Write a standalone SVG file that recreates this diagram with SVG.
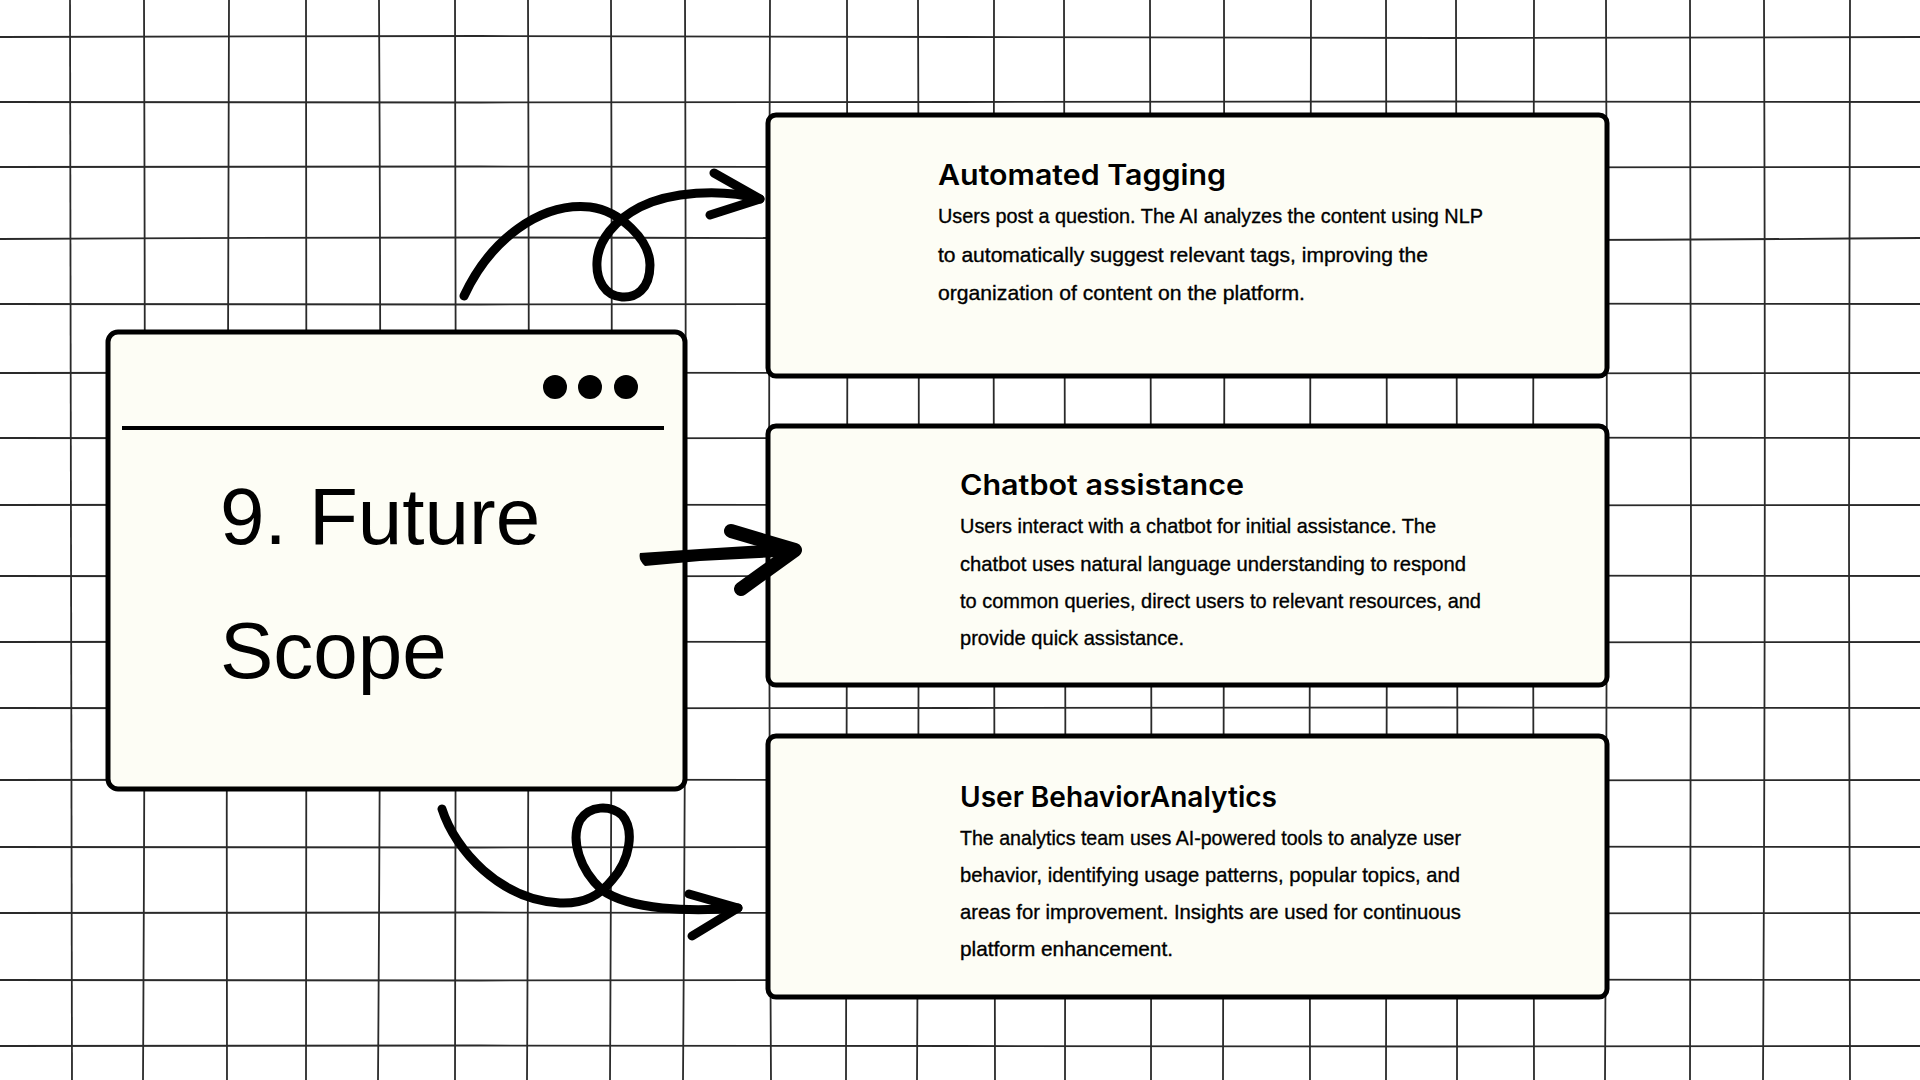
<svg xmlns="http://www.w3.org/2000/svg" width="1920" height="1080" viewBox="0 0 1920 1080">
<style>
.grid path{fill:none;stroke:#2a2a2a;stroke-width:1.8}
.box{fill:#FDFDF5;stroke:#000;stroke-width:5}
.ttl{font-family:Inter,"DejaVu Sans",sans-serif;font-weight:600;font-size:28px;fill:#000}
.body{font-family:"Liberation Sans",Arial,sans-serif;font-size:21px;fill:#000;stroke:#000;stroke-width:0.35}
.big{font-family:"Liberation Sans",Arial,sans-serif;font-size:80px;fill:#000}
.conn .ln{fill:none;stroke:#000;stroke-linecap:round;stroke-linejoin:round}
.conn .sh{fill:#000;stroke:none}
</style>
<rect width="1920" height="1080" fill="#fff"/>
<g class="grid">
<path d="M70,0 Q72,540 72,1080"/>
<path d="M144,0 Q146,540 143,1080"/>
<path d="M229,0 Q226,540 227,1080"/>
<path d="M306,0 Q307,540 306,1080"/>
<path d="M379,0 Q382,540 378,1080"/>
<path d="M455,0 Q457,540 455,1080"/>
<path d="M528,0 Q530,540 527,1080"/>
<path d="M611,0 Q613,540 610,1080"/>
<path d="M685,0 Q687,540 683,1080"/>
<path d="M770,0 Q768,540 771,1080"/>
<path d="M847,0 Q848,540 846,1080"/>
<path d="M918,0 Q920,540 917,1080"/>
<path d="M994,0 Q993,540 995,1080"/>
<path d="M1064,0 Q1066,540 1065,1080"/>
<path d="M1150,0 Q1152,540 1151,1080"/>
<path d="M1224,0 Q1225,540 1223,1080"/>
<path d="M1311,0 Q1309,540 1310,1080"/>
<path d="M1386,0 Q1388,540 1386,1080"/>
<path d="M1456,0 Q1458,540 1457,1080"/>
<path d="M1534,0 Q1532,540 1534,1080"/>
<path d="M1606,0 Q1608,540 1605,1080"/>
<path d="M1690,0 Q1692,540 1690,1080"/>
<path d="M1764,0 Q1766,540 1763,1080"/>
<path d="M1850,0 Q1848,540 1850,1080"/>
<path d="M0,37 Q480,35 960,37 T1920,37"/>
<path d="M0,102 Q480,103 960,102 T1920,102"/>
<path d="M0,167 Q480,166 960,167 T1920,167"/>
<path d="M0,239 Q480,236 960,239 T1920,238"/>
<path d="M0,304 Q480,305 960,304 T1920,304"/>
<path d="M0,373 Q480,372 960,373 T1920,373"/>
<path d="M0,438 Q480,439 960,438 T1920,438"/>
<path d="M0,505 Q480,504 960,505 T1920,505"/>
<path d="M0,576 Q480,577 960,576 T1920,576"/>
<path d="M0,642 Q480,641 960,642 T1920,642"/>
<path d="M0,708 Q480,709 960,708 T1920,708"/>
<path d="M0,780 Q480,779 960,780 T1920,780"/>
<path d="M0,847 Q480,848 960,847 T1920,847"/>
<path d="M0,913 Q480,912 960,913 T1920,913"/>
<path d="M0,980 Q480,981 960,980 T1920,980"/>
<path d="M0,1046 Q480,1045 960,1046 T1920,1046"/>
</g>
<g id="main-node">
<rect class="box" x="108" y="332" width="577" height="457" rx="10"/>
<line x1="122" y1="428" x2="664" y2="428" stroke="#000" stroke-width="4"/>
<circle cx="555" cy="387" r="12" fill="#000"/>
<circle cx="590" cy="387" r="12" fill="#000"/>
<circle cx="626" cy="387" r="12" fill="#000"/>
<text class="big" x="220" y="544">9. Future</text>
<text class="big" x="220" y="678">Scope</text>
</g>
<g id="automated-tagging">
<rect class="box" x="768" y="115" width="839" height="261" rx="8"/>
<text class="ttl" x="938" y="185" textLength="288" lengthAdjust="spacingAndGlyphs">Automated Tagging</text>
<text class="body" x="938" y="223" textLength="545" lengthAdjust="spacingAndGlyphs">Users post a question. The AI analyzes the content using NLP</text>
<text class="body" x="938" y="262" textLength="490" lengthAdjust="spacingAndGlyphs">to automatically suggest relevant tags, improving the</text>
<text class="body" x="938" y="300" textLength="367" lengthAdjust="spacingAndGlyphs">organization of content on the platform.</text>
</g>
<g id="chatbot-assistance">
<rect class="box" x="768" y="426" width="839" height="259" rx="8"/>
<text class="ttl" x="960" y="495" textLength="284" lengthAdjust="spacingAndGlyphs">Chatbot assistance</text>
<text class="body" x="960" y="533" textLength="476" lengthAdjust="spacingAndGlyphs">Users interact with a chatbot for initial assistance. The</text>
<text class="body" x="960" y="571" textLength="506" lengthAdjust="spacingAndGlyphs">chatbot uses natural language understanding to respond</text>
<text class="body" x="960" y="608" textLength="521" lengthAdjust="spacingAndGlyphs">to common queries, direct users to relevant resources, and</text>
<text class="body" x="960" y="645" textLength="224" lengthAdjust="spacingAndGlyphs">provide quick assistance.</text>
</g>
<g id="user-behavior-analytics">
<rect class="box" x="768" y="736" width="839" height="261" rx="8"/>
<text class="ttl" x="960" y="807" textLength="317" lengthAdjust="spacingAndGlyphs">User BehaviorAnalytics</text>
<text class="body" x="960" y="845" textLength="501" lengthAdjust="spacingAndGlyphs">The analytics team uses AI-powered tools to analyze user</text>
<text class="body" x="960" y="882" textLength="500" lengthAdjust="spacingAndGlyphs">behavior, identifying usage patterns, popular topics, and</text>
<text class="body" x="960" y="919" textLength="501" lengthAdjust="spacingAndGlyphs">areas for improvement. Insights are used for continuous</text>
<text class="body" x="960" y="956" textLength="213" lengthAdjust="spacingAndGlyphs">platform enhancement.</text>
</g>
<g id="connectors" class="conn">
<path class="ln" stroke-width="9" d="M464,296 C490,240 540,202 590,207 C620,211 650,240 650,265 C650,290 635,298 622,297 C605,296 596,280 597,262 C598,240 615,220 640,207 C670,192 720,188 760,199"/>
<path class="ln" stroke-width="9" d="M714,173 L760,199 L710,215"/>
<path class="ln" stroke-width="9" d="M442,809 C455,850 500,900 560,903 C585,904 600,895 612,880 C630,860 635,830 622,815 C610,805 590,805 580,820 C570,840 580,870 602,890 C630,910 690,912 738,908"/>
<path class="ln" stroke-width="9" d="M689,894 L738,908 L692,936"/>
<path class="sh" d="M640,553 L700,549 L795,543 L797,556 L700,561 L645,566 Q638,560 640,553 Z"/>
<path class="ln" stroke-width="14" d="M731,531 L795,550 L741,589"/>
</g>
</svg>
